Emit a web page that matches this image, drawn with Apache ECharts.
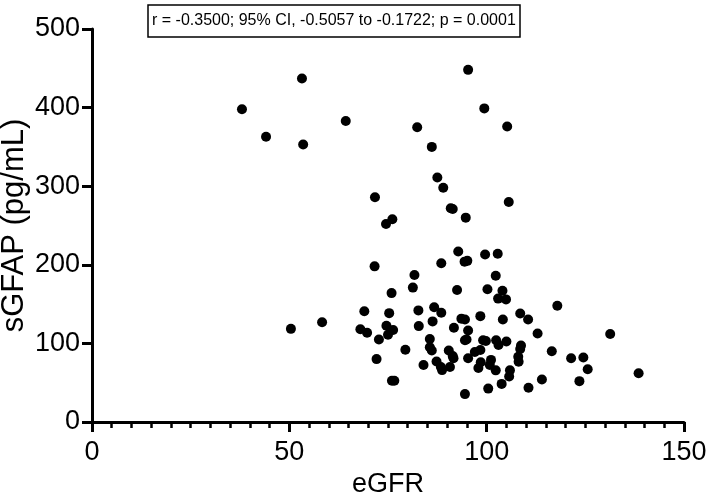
<!DOCTYPE html>
<html>
<head>
<meta charset="utf-8">
<script src="https://cdn.jsdelivr.net/npm/echarts@6/dist/echarts.min.js"></script>
<style>html,body{margin:0;padding:0;background:#fff}#c{width:709px;height:498px}</style>
</head>
<body>
<div id="c"></div>
<script>
const annotation = 'r = -0.3500; 95% CI, -0.5057 to -0.1722; p = 0.0001';
const xTitle = 'eGFR';
const yTitle = 'sGFAP (pg/mL)';
const xTicks = [0, 50, 100, 150];
const yTicks = [0, 100, 200, 300, 400, 500];
const eGFR = [
  38.0, 44.1, 53.2, 53.5, 64.3, 82.4, 95.3, 99.4, 105.2, 86.1,
  87.5, 89.0, 71.7, 105.6, 90.9, 91.4, 76.1, 74.5, 94.7, 92.8,
  99.6, 102.8, 71.6, 88.5, 94.4, 95.1, 81.7, 102.3, 81.3, 75.9,
  92.5, 100.2, 104.0, 102.9, 104.9, 117.9, 69.0, 75.3, 82.7, 86.7,
  88.5, 93.6, 94.5, 98.4, 104.1, 108.5, 110.5, 86.3, 82.8, 68.0,
  69.7, 74.6, 76.3, 75.0, 72.7, 91.7, 95.3, 50.4, 58.3, 112.9,
  131.3, 85.6, 94.5, 94.9, 99.1, 99.8, 102.4, 103.0, 105.0, 108.7,
  108.5, 116.5, 85.6, 86.1, 79.4, 90.4, 91.4, 91.6, 97.0, 98.4,
  72.1, 84.0, 87.3, 88.4, 88.7, 90.7, 95.3, 98.5, 97.9, 101.1,
  100.8, 102.3, 105.9, 105.7, 108.0, 108.1, 121.4, 124.5, 125.6, 114.0,
  110.6, 123.5, 138.5, 100.4, 103.8, 94.5, 76.0, 76.6
];
const sGFAP = [
  398, 363, 437, 353, 383, 375, 448, 399, 376, 350,
  311, 298, 286, 280, 272, 271, 258, 252, 260, 217,
  213, 214, 198, 202, 204, 205, 187, 186, 171, 164,
  168, 169, 167, 157, 156, 148, 141, 138.5, 142, 146,
  139, 131.5, 130.4, 134.7, 130.5, 138, 130.5, 128, 122, 118,
  113.5, 122.4, 117, 111, 105, 120, 116.5, 118.5, 127, 112.7,
  112, 105.5, 104, 105, 104, 103, 104, 98, 102.5, 97.4,
  92.8, 90, 95, 91, 92, 91, 84, 81, 89, 91.5,
  80, 72.6, 77, 70, 66, 70, 81, 76, 68.6, 79,
  72.6, 65.7, 65.7, 58, 83, 76.6, 81, 82, 67, 54,
  43.6, 52, 62, 42.5, 48.5, 35.5, 52.5, 52.5
];
const points = eGFR.map((x, i) => [x, sGFAP[i]]);
const FONT = '"Liberation Sans", Arial, Helvetica, sans-serif';
const chart = echarts.init(document.getElementById('c'), null, {renderer: 'canvas'});
chart.setOption({
  animation: false,
  backgroundColor: '#fff',
  title: {
    text: annotation,
    left: 148, top: 5,
    padding: [8, 4, 8, 4],
    borderColor: '#000', borderWidth: 1.5,
    textStyle: {fontFamily: FONT, fontSize: 16, fontWeight: 'normal', color: '#000', lineHeight: 16}
  },
  grid: {left: 92, right: 25, top: 29, bottom: 76, containLabel: false, outerBoundsMode: 'none'},
  xAxis: {
    type: 'value', min: xTicks[0], max: xTicks[xTicks.length - 1], interval: 50,
    name: xTitle, nameLocation: 'middle', nameGap: 49, nameMoveOverlap: false,
    nameTextStyle: {fontFamily: FONT, fontSize: 27, color: '#000'},
    axisLine: {show: true, onZero: false, lineStyle: {color: '#000', width: 3}},
    axisTick: {show: true, length: 10, lineStyle: {color: '#000', width: 3}},
    minorTick: {show: true, splitNumber: 10, length: 6, lineStyle: {color: '#000', width: 2.5}},
    splitLine: {show: false},
    axisLabel: {fontFamily: FONT, fontSize: 27, color: '#000', margin: 17}
  },
  yAxis: {
    type: 'value', min: yTicks[0], max: yTicks[yTicks.length - 1], interval: 100,
    name: yTitle, nameLocation: 'middle', nameGap: 62, nameMoveOverlap: false,
    nameTextStyle: {fontFamily: FONT, fontSize: 31, color: '#000'},
    axisLine: {show: true, onZero: false, lineStyle: {color: '#000', width: 3}},
    axisTick: {show: true, length: 10, lineStyle: {color: '#000', width: 3}},
    splitLine: {show: false},
    axisLabel: {fontFamily: FONT, fontSize: 27, color: '#000', margin: 12}
  },
  series: [{
    type: 'scatter',
    data: points,
    symbol: 'circle',
    symbolSize: 10,
    itemStyle: {color: '#000', opacity: 1}
  }]
});
</script>
</body>
</html>
